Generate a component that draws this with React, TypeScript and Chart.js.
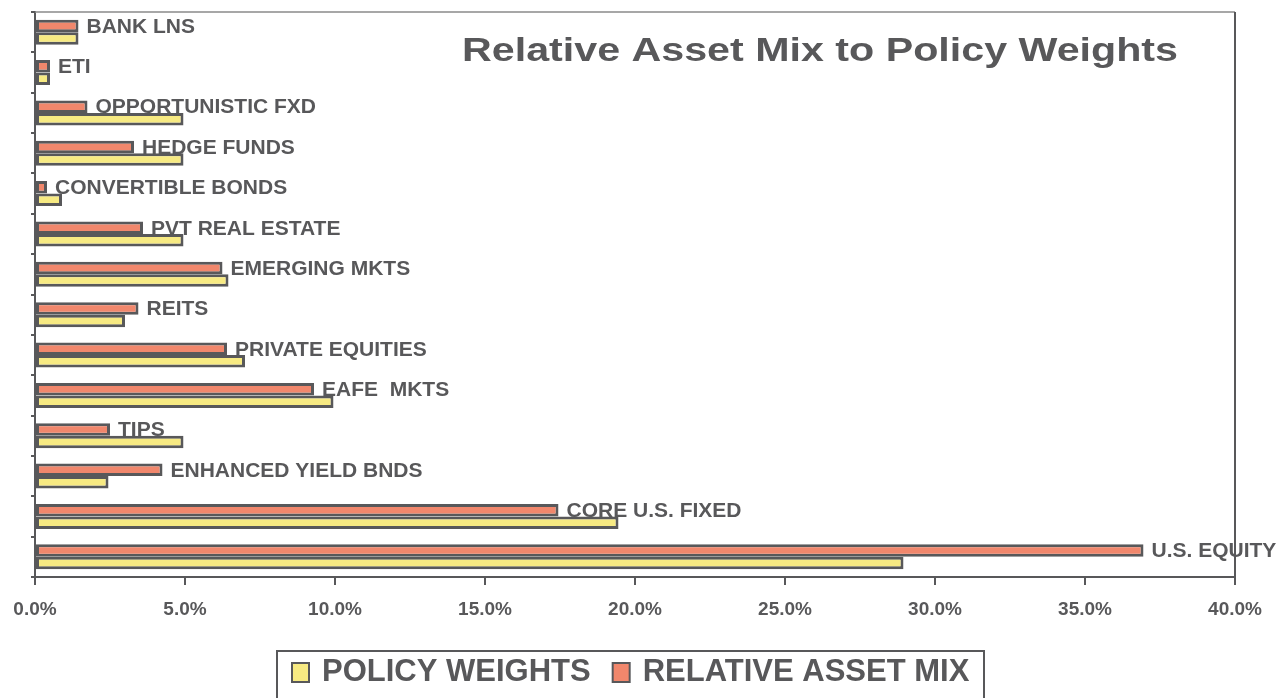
import React, { useEffect, useRef } from "react";
import { Chart, registerables } from "chart.js";

Chart.register(...registerables);

const categories = [
  "BANK LNS",
  "ETI",
  "OPPORTUNISTIC FXD",
  "HEDGE FUNDS",
  "CONVERTIBLE BONDS",
  "PVT REAL ESTATE",
  "EMERGING MKTS",
  "REITS",
  "PRIVATE EQUITIES",
  "EAFE  MKTS",
  "TIPS",
  "ENHANCED YIELD BNDS",
  "CORE U.S. FIXED",
  "U.S. EQUITY",
];

const relativeAssetMix = [1.45, 0.5, 1.75, 3.3, 0.4, 3.6, 6.25, 3.45, 6.4, 9.3, 2.5, 4.25, 17.45, 36.95];
const policyWeights = [1.45, 0.5, 4.95, 4.95, 0.9, 4.95, 6.45, 3.0, 7.0, 9.95, 4.95, 2.45, 19.45, 28.95];

const xTicks = [0, 5, 10, 15, 20, 25, 30, 35, 40];

const titleText = "Relative Asset Mix to Policy Weights";
const legendLabels = ["POLICY WEIGHTS", "RELATIVE ASSET MIX"];

const INK = "#58585a";
const RED = "#f1876c";
const YELLOW = "#f7ea82";
const FONT = "'Liberation Sans', Arial, sans-serif";

const overlayPlugin = {
  id: "overlay",
  afterDatasetsDraw(chart: any) {
    const ctx = chart.ctx;
    const meta = chart.getDatasetMeta(0);
    ctx.save();
    ctx.fillStyle = INK;
    ctx.font = `bold 21px ${FONT}`;
    ctx.textAlign = "left";
    ctx.textBaseline = "middle";
    meta.data.forEach((el: any, i: number) => {
      ctx.fillText(categories[i], el.x + 8, el.y + 1);
    });
    ctx.restore();
  },
  afterDraw(chart: any) {
    const ctx = chart.ctx;
    const ca = chart.chartArea;
    ctx.save();
    // frame top and right
    ctx.strokeStyle = "#8a8a8a";
    ctx.lineWidth = 1.5;
    ctx.beginPath();
    ctx.moveTo(ca.left, ca.top);
    ctx.lineTo(ca.right, ca.top);
    ctx.stroke();
    ctx.strokeStyle = INK;
    ctx.lineWidth = 2;
    ctx.beginPath();
    ctx.moveTo(ca.right, ca.top);
    ctx.lineTo(ca.right, ca.bottom);
    ctx.stroke();

    // title
    ctx.fillStyle = INK;
    ctx.font = `bold 34px ${FONT}`;
    ctx.textAlign = "left";
    ctx.textBaseline = "alphabetic";
    const w = ctx.measureText(titleText).width;
    const sx = 716 / w;
    ctx.save();
    ctx.translate(462, 61);
    ctx.scale(sx, 1);
    ctx.fillText(titleText, 0, 0);
    ctx.restore();

    // legend
    ctx.strokeStyle = INK;
    ctx.lineWidth = 2;
    ctx.strokeRect(277, 651, 707, 60);
    ctx.font = `bold 31px ${FONT}`;
    const colors = [YELLOW, RED];
    let x = 292;
    legendLabels.forEach((lab, i) => {
      ctx.fillStyle = colors[i];
      ctx.fillRect(x, 663, 17, 19);
      ctx.strokeStyle = INK;
      ctx.lineWidth = 2;
      ctx.strokeRect(x, 663, 17, 19);
      ctx.fillStyle = INK;
      ctx.fillText(lab, x + 30, 681);
      x = x + 30 + ctx.measureText(lab).width + 22;
    });
    ctx.restore();
  },
};

export default function App() {
  const ref = useRef<HTMLCanvasElement | null>(null);

  useEffect(() => {
    if (!ref.current) return;
    const chart = new Chart(ref.current, {
      type: "bar",
      data: {
        labels: categories,
        datasets: [
          {
            label: legendLabels[1],
            data: relativeAssetMix,
            backgroundColor: RED,
            borderColor: INK,
            borderWidth: 3,
            borderSkipped: false,
            categoryPercentage: 0.62,
            barPercentage: 1,
          },
          {
            label: legendLabels[0],
            data: policyWeights,
            backgroundColor: YELLOW,
            borderColor: INK,
            borderWidth: 3,
            borderSkipped: false,
            categoryPercentage: 0.62,
            barPercentage: 1,
          },
        ],
      },
      options: {
        indexAxis: "y",
        responsive: false,
        animation: false,
        devicePixelRatio: 1,
        layout: { padding: { left: 35, right: 52, top: 12, bottom: 0 } },
        plugins: {
          legend: { display: false },
          tooltip: { enabled: false },
          title: { display: false },
        },
        scales: {
          x: {
            type: "linear",
            min: 0,
            max: 40,
            afterBuildTicks: (s: any) => {
              s.ticks = xTicks.map((v) => ({ value: v }));
            },
            afterFit: (s: any) => {
              s.height = 121;
            },
            grid: {
              drawOnChartArea: false,
              drawTicks: true,
              tickLength: 8,
              color: INK,
              lineWidth: 2,
            },
            border: { display: true, color: INK, width: 2 },
            ticks: {
              color: INK,
              padding: 13,
              maxRotation: 0,
              font: { family: FONT, size: 19, weight: "bold" },
              callback: (v: any) => Number(v).toFixed(1) + "%",
            },
          },
          y: {
            type: "category",
            afterFit: (s: any) => {
              s.width = 0;
            },
            grid: {
              drawOnChartArea: false,
              drawTicks: true,
              tickLength: 4,
              color: INK,
              lineWidth: 2,
            },
            border: { display: true, color: INK, width: 2 },
            ticks: { display: false },
          },
        },
      },
      plugins: [overlayPlugin],
    } as any);
    return () => chart.destroy();
  }, []);

  return (
    <div style={{ position: "fixed", left: 0, top: 0, width: 1287, height: 698, background: "#fff" }}>
      <canvas ref={ref} width={1287} height={698} style={{ display: "block" }} />
    </div>
  );
}
